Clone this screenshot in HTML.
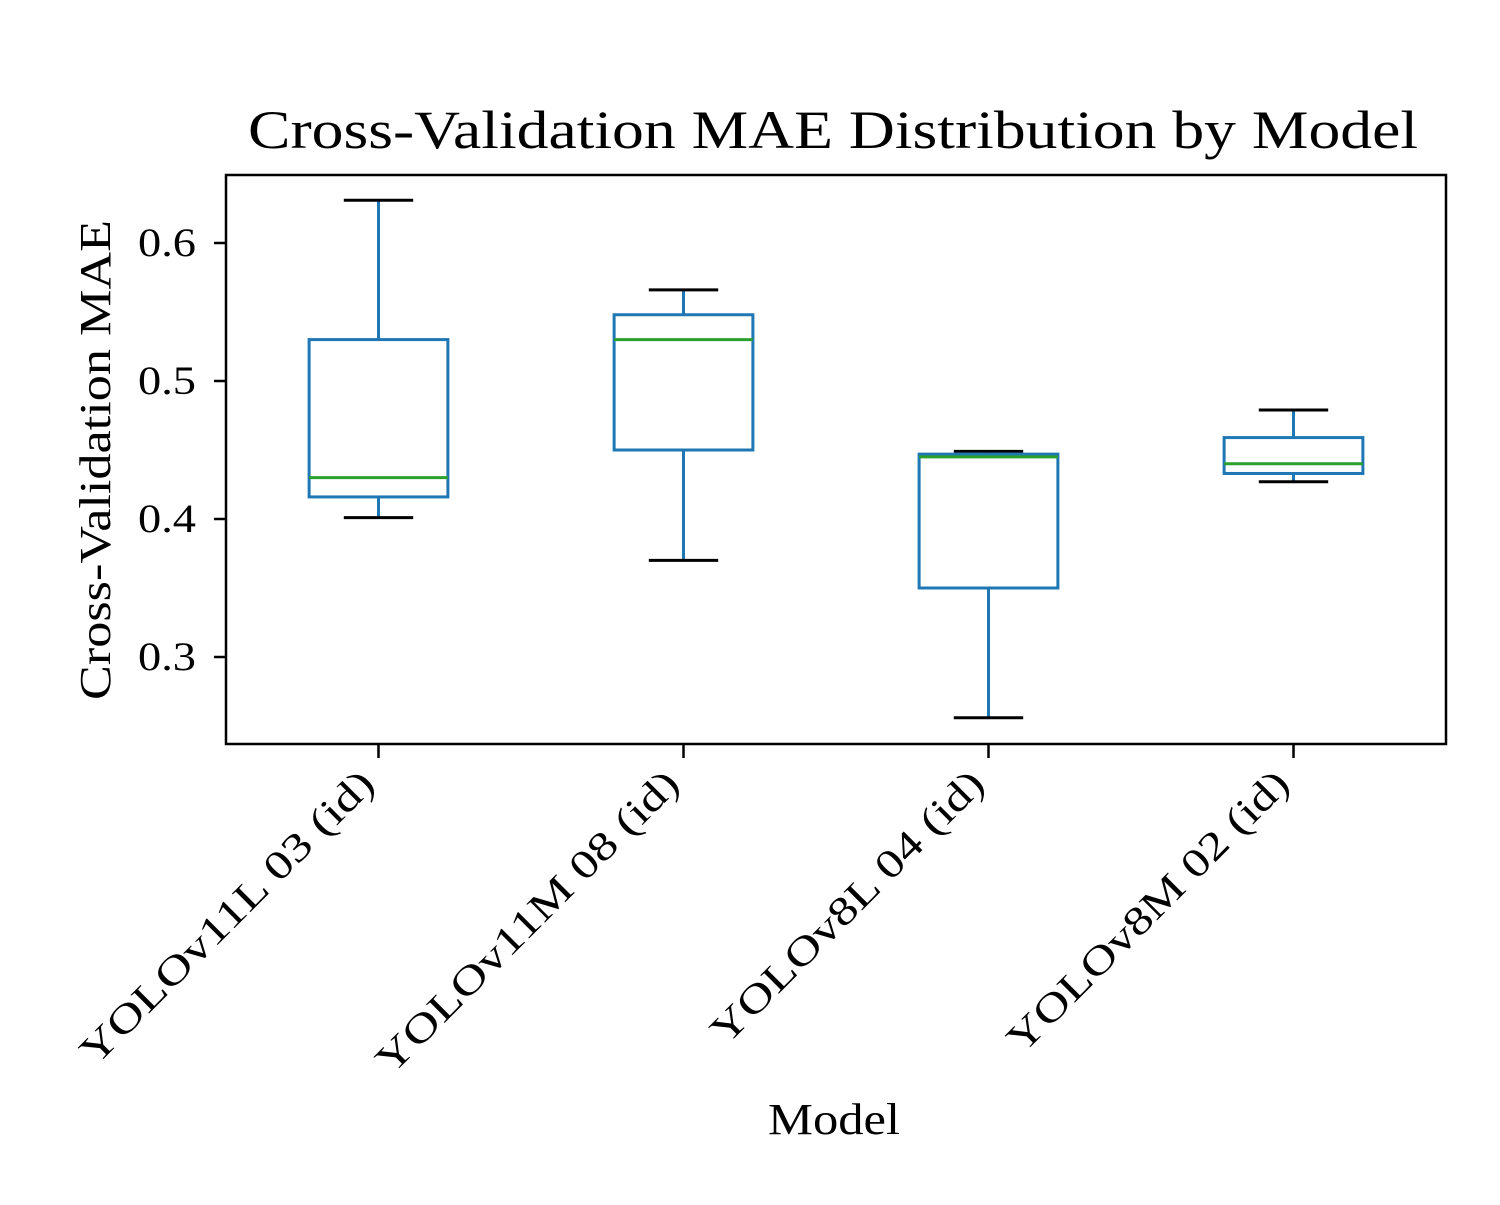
<!DOCTYPE html>
<html><head><meta charset="utf-8"><style>
body{margin:0;background:#fff}
svg text{font-family:"Liberation Serif","DejaVu Serif",serif;fill:#000}
</style></head><body>
<svg id="chart" width="1500" height="1200" xmlns="http://www.w3.org/2000/svg">
<rect width="1500" height="1200" fill="#fff"/>
<text x="833" y="148" font-size="54" text-anchor="middle" textLength="1170" lengthAdjust="spacingAndGlyphs">Cross-Validation MAE Distribution by Model</text>
<text transform="translate(110,460) rotate(-90)" font-size="44" text-anchor="middle" textLength="480" lengthAdjust="spacingAndGlyphs">Cross-Validation MAE</text>
<text x="834" y="1134" font-size="44" text-anchor="middle" textLength="132" lengthAdjust="spacingAndGlyphs">Model</text>
<g id="plot"></g>
<rect x="226" y="175" width="1220" height="569" fill="none" stroke="#000" stroke-width="2.5"/>
</svg>
<script>
const categories=["YOLOv11L 03 (id)","YOLOv11M 08 (id)","YOLOv8L 04 (id)","YOLOv8M 02 (id)"];
const whiskerHigh=[0.631,0.566,0.449,0.479];
const q3=[0.530,0.548,0.447,0.459];
const median=[0.430,0.530,0.445,0.440];
const q1=[0.416,0.450,0.350,0.433];
const whiskerLow=[0.401,0.370,0.256,0.427];
const yTicks=[0.3,0.4,0.5,0.6];
const labelLen=[397,410,368,380];
const L=226,R=1446,T=175,B=744;
const yMin=0.6-(B-243)/1380, yMax=0.6+(243-T)/1380;
const y=v=>B-(v-yMin)/(yMax-yMin)*(B-T);
const x=i=>L+(i+0.5)/categories.length*(R-L);
const unit=(R-L)/categories.length;
const g=document.getElementById('plot');
const NS="http://www.w3.org/2000/svg";
function mk(tag,attrs){const e=document.createElementNS(NS,tag);for(const k in attrs)e.setAttribute(k,attrs[k]);g.appendChild(e);return e;}
function line(x1,y1,x2,y2,c,w){return mk('line',{x1,y1,x2,y2,stroke:c,'stroke-width':w});}
yTicks.forEach(t=>{
  const l=line(L-12,y(t),L,y(t),'#000',2.5);
  
  
  const tx=mk('text',{x:L-30,y:y(t)+13,'font-size':40,'text-anchor':'end',textLength:58,lengthAdjust:'spacingAndGlyphs'});
  tx.textContent=t.toFixed(1);
  
  
});
const blue='#1f77b4',green='#2ca02c';
categories.forEach((c,i)=>{
  const cx=x(i),bw=unit*0.455,cw=bw/2;
  const t=line(cx,B,cx,B+14,'#000',2.5);
  
  
  const tx=mk('text',{transform:`translate(${cx-2},${B+42}) rotate(-45)`,'font-size':40,'text-anchor':'end',textLength:labelLen[i],lengthAdjust:'spacingAndGlyphs'});
  tx.textContent=c;
  
  
  const w1=line(cx,y(whiskerHigh[i]),cx,y(q3[i]),blue,3);
  
  
  const w2=line(cx,y(q1[i]),cx,y(whiskerLow[i]),blue,3);
  
  
  const c1=line(cx-cw/2,y(whiskerHigh[i]),cx+cw/2,y(whiskerHigh[i]),'#000',3);
  
  
  const c2=line(cx-cw/2,y(whiskerLow[i]),cx+cw/2,y(whiskerLow[i]),'#000',3);
  
  
  const b=mk('rect',{x:cx-bw/2,y:y(q3[i]),width:bw,height:y(q1[i])-y(q3[i]),fill:'none',stroke:blue,'stroke-width':3});
  
  
  const m=line(cx-bw/2,y(median[i]),cx+bw/2,y(median[i]),green,3);
  
  
});
</script>
</body></html>
